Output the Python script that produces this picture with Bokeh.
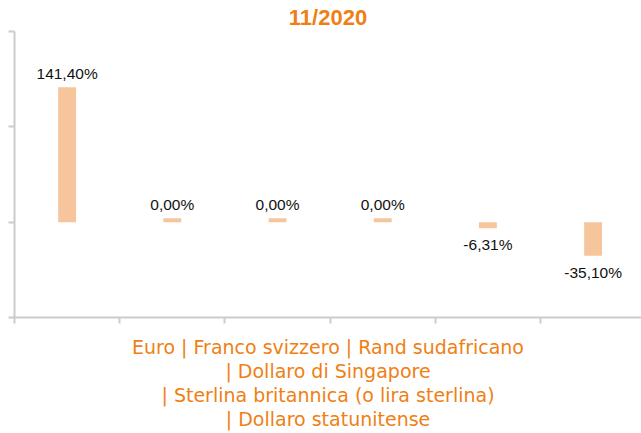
from bokeh.plotting import figure
from bokeh.models import Range1d, FixedTicker, ColumnDataSource
from bokeh.core.properties import value
from bokeh.embed import file_html
from bokeh.resources import INLINE

# ---- data ----
categories = ["Euro", "Franco svizzero", "Rand sudafricano", "Dollaro di Singapore",
              "Sterlina britannica (o lira sterlina)", "Dollaro statunitense"]
values = [141.40, 0.00, 0.00, 0.00, -6.31, -35.10]
title_text = "11/2020"
y_ticks = [-100, 0, 100, 200]

x_label = "Euro | Franco svizzero | Rand sudafricano\n| Dollaro di Singapore\n| Sterlina britannica (o lira sterlina)\n| Dollaro statunitense"

BAR = "#F6C59B"
ORANGE = "#EF7F14"
AXIS = "#CCCCCC"
ZERO_BAR = 4.0  # visible stub height for zero values (data units)

xs = [i + 0.5 for i in range(len(categories))]
tops = [v if v != 0 else ZERO_BAR for v in values]
labels = [f"{v:.2f}".replace(".", ",") + "%" for v in values]

p = figure(width=641, height=433, output_backend="svg", toolbar_location=None,
           x_range=Range1d(0, 5.96), y_range=Range1d(-100, 200),
           min_border_left=14, min_border_right=0, min_border_top=0, min_border_bottom=0)

p.title.text = title_text
p.title.align = "center"
p.title.text_color = ORANGE
p.title.text_font = "Liberation Sans"
p.title.text_font_size = "22px"
p.title.text_font_style = "bold"
p.title.text_line_height = 1.4
p.title.standoff = 4

p.outline_line_color = None
p.grid.visible = False

p.vbar(x=xs, top=tops, bottom=0, width=0.17, fill_color=BAR, line_color=None)

pos = ColumnDataSource(dict(x=[x for x, v in zip(xs, values) if v >= 0],
                            y=[t for t, v in zip(tops, values) if v >= 0],
                            t=[l for l, v in zip(labels, values) if v >= 0]))
neg = ColumnDataSource(dict(x=[x for x, v in zip(xs, values) if v < 0],
                            y=[t for t, v in zip(tops, values) if v < 0],
                            t=[l for l, v in zip(labels, values) if v < 0]))
p.text(x="x", y="y", text="t", source=pos, text_align="center", text_baseline="bottom",
       y_offset=-5, text_font=value("Liberation Sans"), text_font_size="15.5px", text_color="#111111")
p.text(x="x", y="y", text="t", source=neg, text_align="center", text_baseline="top",
       y_offset=8, text_font=value("Liberation Sans"), text_font_size="15.5px", text_color="#111111")

p.yaxis.ticker = FixedTicker(ticks=y_ticks)
p.yaxis.major_label_text_font_size = "0px"
p.yaxis.major_label_text_color = None
p.yaxis.minor_tick_line_color = None
p.yaxis.major_tick_out = 6
p.yaxis.major_tick_in = 0
p.yaxis.axis_line_color = AXIS
p.yaxis.major_tick_line_color = AXIS
p.yaxis.axis_line_width = 2
p.yaxis.major_tick_line_width = 2

p.xaxis.ticker = FixedTicker(ticks=list(range(len(categories))))
p.xaxis.major_label_text_font_size = "0px"
p.xaxis.major_label_text_color = None
p.xaxis.minor_tick_line_color = None
p.xaxis.major_tick_out = 6
p.xaxis.major_tick_in = 0
p.xaxis.axis_line_color = AXIS
p.xaxis.major_tick_line_color = AXIS
p.xaxis.axis_line_width = 2
p.xaxis.major_tick_line_width = 2
p.xaxis.axis_label = x_label
p.xaxis.axis_label_text_font = "DejaVu Sans"
p.xaxis.axis_label_text_font_size = "19px"
p.xaxis.axis_label_text_font_style = "normal"
p.xaxis.axis_label_text_color = ORANGE
p.xaxis.axis_label_text_align = "center"
p.xaxis.axis_label_text_line_height = 1.1
p.xaxis.axis_label_standoff = 12

open("out.html", "w").write(file_html(p, INLINE))
